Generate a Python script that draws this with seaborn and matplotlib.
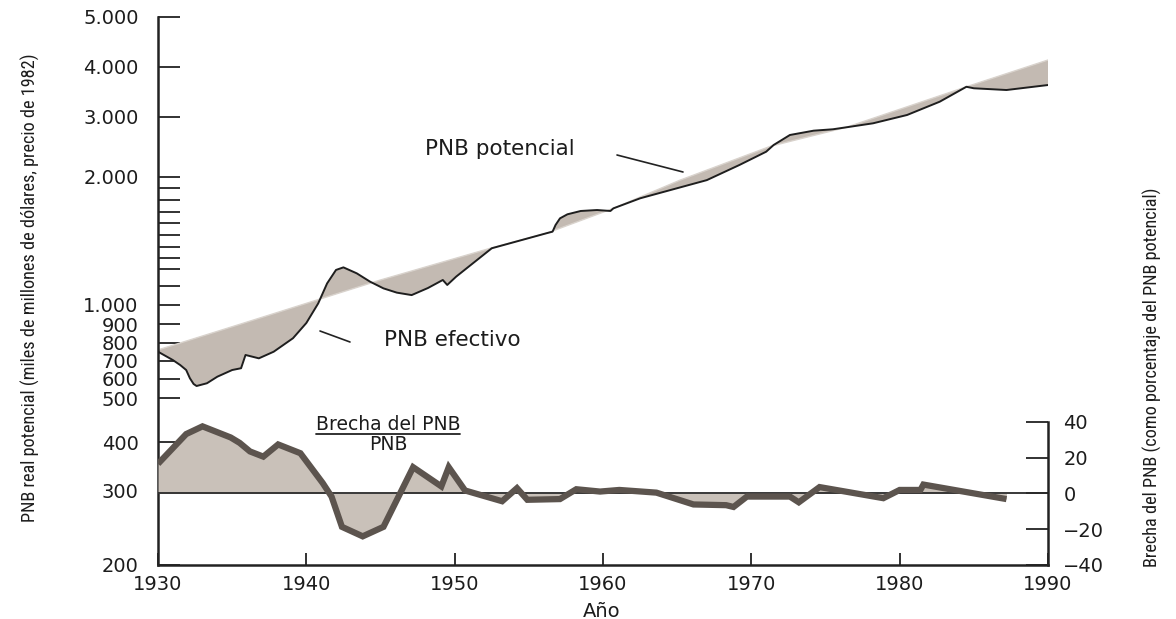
import numpy as np
import pandas as pd
import matplotlib
matplotlib.use("Agg")
import matplotlib.pyplot as plt
import seaborn as sns
from matplotlib import font_manager
from matplotlib.lines import Line2D
from matplotlib.ticker import FixedLocator, NullFormatter

# ---------------- data ----------------
pot_years = [1930, 1935, 1940.7, 1945, 1952.4, 1956.2, 1960.7, 1965.2, 1971.3, 1976.4, 1984.5, 1990]
pot_values = [760, 885, 1025, 1135, 1386, 1515, 1728, 1970, 2460, 2797, 3570, 4127]

act_years = [1930.0, 1931.0, 1931.5, 1931.9, 1932.15, 1932.4, 1932.6, 1933.3, 1934.0, 1935.0,
             1935.6, 1935.9, 1936.8, 1937.8, 1939.1, 1940.0, 1940.8, 1941.4, 1942.0, 1942.5,
             1943.4, 1944.3, 1945.2, 1946.1, 1947.1, 1948.2, 1949.2, 1949.5, 1950.1, 1952.5,
             1956.2, 1956.6, 1956.8, 1957.1, 1957.6, 1958.5, 1959.6, 1960.5, 1960.7, 1962.5,
             1967.0, 1969.2, 1971.0, 1971.5, 1972.6, 1974.2, 1975.5, 1976.4, 1978.2, 1980.5,
             1982.7, 1984.5, 1985.0, 1987.2, 1990.0]
act_values = [750, 705, 676, 648, 604, 572, 561, 576, 612, 648,
              658, 732, 714, 750, 824, 905, 1008, 1115, 1196, 1217,
              1175, 1125, 1087, 1064, 1051, 1089, 1135, 1106, 1155, 1386,
              1515, 1528, 1585, 1642, 1677, 1706, 1714, 1706, 1728, 1814,
              1970, 2166, 2370, 2480, 2655, 2734, 2760, 2797, 2874, 3035,
              3276, 3570, 3539, 3504, 3606]

gap_years = [1930.0, 1931.9, 1933.0, 1934.9, 1935.5, 1936.2, 1937.1, 1938.1, 1939.6, 1941.1,
             1941.7, 1942.4, 1943.8, 1945.2, 1947.2, 1949.1, 1949.6, 1950.7, 1953.2, 1954.2,
             1954.9, 1957.1, 1958.2, 1959.8, 1961.1, 1963.6, 1966.1, 1968.3, 1968.8, 1969.7,
             1972.6, 1973.2, 1974.6, 1978.9, 1980.0, 1981.4, 1981.6, 1987.2]
gap_values = [16.5, 33.1, 37.4, 31.2, 28.2, 23.4, 20.5, 27.3, 22.4, 5.8,
              -1.8, -18.7, -24.0, -18.7, 14.6, 3.9, 14.6, 1.6, -4.4, 2.9,
              -3.6, -3.2, 2.3, 1.0, 1.9, 0.4, -6.2, -6.6, -7.6, -1.8,
              -1.8, -5.0, 3.5, -2.7, 1.9, 1.9, 4.9, -3.2]

left_tick_values = [200, 300, 400, 500, 600, 700, 800, 900, 1000, 2000, 3000, 4000, 5000]
left_tick_labels = ["200", "300", "400", "500", "600", "700", "800", "900",
                    "1.000", "2.000", "3.000", "4.000", "5.000"]
minor_tick_values = [1100, 1200, 1300, 1400, 1500, 1600, 1700, 1800, 1900]
right_tick_values = [-40, -20, 0, 20, 40]
x_tick_values = [1930, 1940, 1950, 1960, 1970, 1980, 1990]

# ---------------- style ----------------
sns.set_theme(style="white")
plt.rcParams["font.family"] = ["DejaVu Sans"]
plt.rcParams["axes.unicode_minus"] = True
TXT = "#1c1c1c"
LINE = "#222222"

names = {f.name for f in font_manager.fontManager.ttflist}
narrow = "DejaVu Sans"
for cand in ["Liberation Sans Narrow", "DejaVu Sans Condensed", "Roboto Condensed", "Open Sans Condensed"]:
    if cand in names:
        narrow = cand
        break

W, H = 1176, 619
fig = plt.figure(figsize=(W / 100, H / 100), dpi=100)
fig.patch.set_facecolor("white")
L, R, T, B = 158, 1048, 17, 565
ax = fig.add_axes([L / W, 1 - B / H, (R - L) / W, (B - T) / H])
ax.set_facecolor("none")

def fx(x):
    return x / W

def fy(y):
    return 1 - y / H

# piecewise scale of the printed axis (tick value -> position on the axis)
scale_vals = np.array([200, 300, 400, 500, 600, 700, 800, 900, 1000, 1100, 1200, 1300, 1400,
                       1500, 1600, 1700, 1800, 1900, 2000, 3000, 4000, 5000], float)
scale_px = np.array([565, 490, 442, 398, 379, 361, 343, 324, 305, 286, 269.3, 258.3, 246.7,
                     235, 223.3, 211.7, 200, 188.3, 176.7, 117, 67, 17], float)
scale_frac = (B - scale_px) / (B - T)
scale_log = np.log10(scale_vals)

def fwd(v):
    v = np.asarray(v, float)
    return np.interp(np.log10(np.clip(v, 1e-6, None)), scale_log, scale_frac)

def inv(f):
    f = np.asarray(f, float)
    return 10 ** np.interp(f, scale_frac, scale_log)

ax.set_yscale("function", functions=(fwd, inv))

# ---------------- top panel: potential vs actual GNP ----------------
df_pot = pd.DataFrame({"year": pot_years, "pnb": pot_values})
df_act = pd.DataFrame({"year": act_years, "pnb": act_values})

ax.fill(np.r_[pot_years, act_years[::-1]], np.r_[pot_values, act_values[::-1]],
        color="#c3bab2", lw=0, zorder=1)
sns.lineplot(data=df_pot, x="year", y="pnb", ax=ax, color="#d9d3cd", lw=1.0,
             estimator=None, sort=False, zorder=2)
sns.lineplot(data=df_act, x="year", y="pnb", ax=ax, color="#1e1e1e", lw=1.4,
             estimator=None, sort=False, zorder=3)

ax.set_xlim(1930, 1990)
ax.set_ylim(200, 5000)
ax.set_xlabel("")
ax.set_ylabel("")
ax.grid(False)

ax.set_yticks(left_tick_values)
ax.set_yticklabels(left_tick_labels)
ax.yaxis.set_minor_locator(FixedLocator(minor_tick_values))
ax.yaxis.set_minor_formatter(NullFormatter())
ax.tick_params(axis="y", which="both", direction="in", length=16, width=1.3,
               pad=14, labelsize=14, color=LINE, labelcolor=TXT, left=True)
ax.set_xticks(x_tick_values)
ax.tick_params(axis="x", direction="in", length=8.5, width=1.3, pad=7,
               labelsize=14, color=LINE, labelcolor=TXT, bottom=True)
for s in ["top", "right"]:
    ax.spines[s].set_visible(False)
for s in ["left", "bottom"]:
    ax.spines[s].set_linewidth(1.8)
    ax.spines[s].set_color(LINE)

# ---------------- bottom panel: GNP gap (right axis) ----------------
ax2 = ax.twinx()
px_per_unit = (565 - 421.7) / 80.0
ax2.set_ylim(-40, -40 + (B - T) / px_per_unit)
ax2.fill_between(gap_years, gap_values, 0, interpolate=True, color="#c9c1b9", lw=0, zorder=1)
ax2.axhline(0, color="#2a2a2a", lw=1.3, zorder=2)
df_gap = pd.DataFrame({"year": gap_years, "gap": gap_values})
sns.lineplot(data=df_gap, x="year", y="gap", ax=ax2, color="#5c544e", lw=4.5,
             estimator=None, sort=False, zorder=3, solid_joinstyle="miter",
             solid_capstyle="butt")
ax2.set_xlim(1930, 1990)
ax2.set_ylabel("")
ax2.set_xlabel("")
ax2.grid(False)
ax2.set_yticks(right_tick_values)
ax2.tick_params(axis="y", direction="in", length=16, width=1.3, pad=11,
                labelsize=14, color=LINE, labelcolor=TXT, right=True, left=False)
for s in ["top", "left", "bottom"]:
    ax2.spines[s].set_visible(False)
ax2.spines["right"].set_bounds(-40, 40)
ax2.spines["right"].set_linewidth(1.8)
ax2.spines["right"].set_color(LINE)

# ---------------- texts ----------------
fig.text(fx(500), fy(155), "PNB potencial", ha="center", va="baseline", fontsize=15.5, color=TXT)
fig.text(fx(452), fy(346.5), "PNB efectivo", ha="center", va="baseline", fontsize=15.5, color=TXT)
t_br = fig.text(fx(388), fy(430.5), "Brecha del PNB", ha="center", va="baseline", fontsize=13.5, color=TXT)
fig.text(fx(388), fy(450), "PNB", ha="center", va="baseline", fontsize=13.5, color=TXT)
fig.text(fx(602), fy(617), "Año", ha="center", va="baseline", fontsize=14, color=TXT)

fig.add_artist(Line2D([fx(617), fx(683)], [fy(155), fy(172)], color=LINE, lw=1.2,
                      transform=fig.transFigure))
fig.add_artist(Line2D([fx(320), fx(350)], [fy(331), fy(342)], color=LINE, lw=1.2,
                      transform=fig.transFigure))

yl = fig.text(fx(30), fy(288), "PNB real potencial (miles de millones de dólares, precio de 1982)",
              rotation=90, ha="center", va="center", fontsize=12, color=TXT, family=narrow)
yr = fig.text(fx(1152), fy(377), "Brecha del PNB (como porcentaje del PNB potencial)",
              rotation=90, ha="center", va="center", fontsize=12, color=TXT, family=narrow)

fig.canvas.draw()
rend = fig.canvas.get_renderer()
for t, target in [(yl, 470), (yr, 380)]:
    h = t.get_window_extent(rend).height
    t.set_fontsize(12 * target / h)

bb = t_br.get_window_extent(rend)
fig.add_artist(Line2D([bb.x0 / W, bb.x1 / W], [fy(433.5), fy(433.5)], color=LINE, lw=1.3,
                      transform=fig.transFigure))

fig.savefig("out.png", dpi=100, facecolor="white")
